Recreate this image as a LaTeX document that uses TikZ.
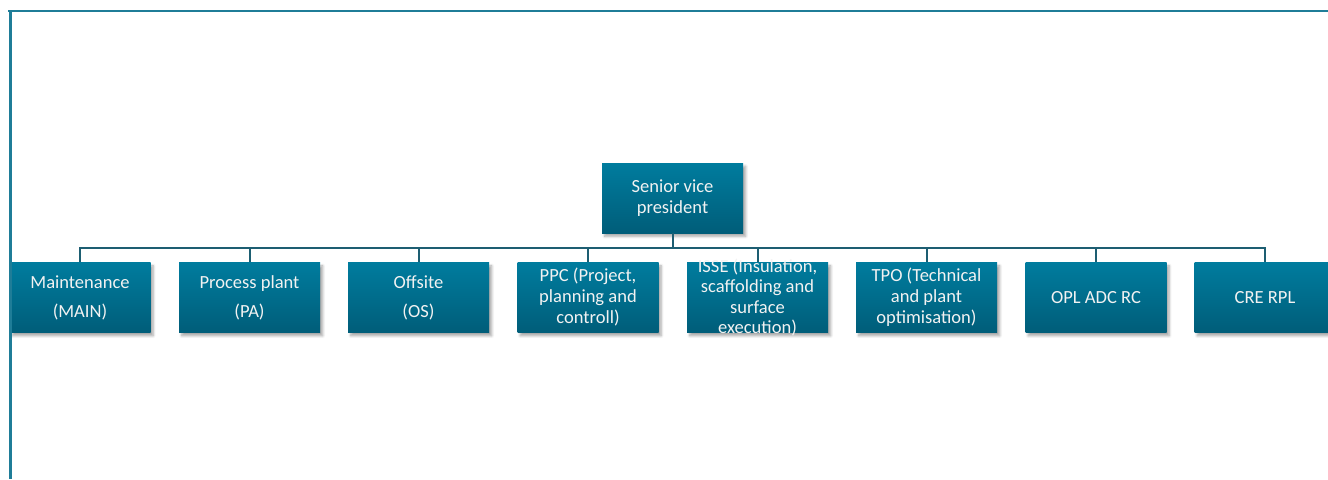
\documentclass[tikz,border=0pt]{standalone}
\usepackage{fontspec}
\setmainfont{Carlito}
\usetikzlibrary{shadows.blur}
\definecolor{frameteal}{HTML}{1F7D98}
\definecolor{linkteal}{HTML}{1D5E72}
\definecolor{boxtop}{HTML}{007C9E}
\definecolor{boxbottom}{HTML}{005D79}
\definecolor{boxtext}{HTML}{F2F2F2}
\tikzset{
  unit/.style={rectangle, minimum width=105.75pt, minimum height=52.5pt, inner sep=0pt,
    top color=boxtop, bottom color=boxbottom, draw=none,
    blur shadow={shadow xshift=2pt, shadow yshift=-2.5pt, shadow blur steps=6, shadow opacity=35}},
  unittext/.style={text=boxtext, align=center, inner sep=0pt,
    font=\fontsize{13.9}{15.75}\selectfont},
  link/.style={draw=linkteal, line width=1.5pt},
}

\begin{document}
\begin{tikzpicture}[x=0.75pt, y=-0.75pt]
		\useasboundingbox (0,0) rectangle (1328,479);
		% head
		\node [unit, label={[unittext]center:Senior vice\\president}] (svp) at (672.5,198) {};
		\coordinate (bus) at (672.5,248);
		% departments
		\node [unit, label={[unittext]center:Maintenance\\[6pt](MAIN)}] (main) at (80,297.5) {};
		\node [unit, label={[unittext]center:Process plant\\[6pt](PA)}] (pa) at (249.5,297.5) {};
		\node [unit, label={[unittext]center:Offsite\\[6pt](OS)}] (os) at (418.5,297.5) {};
		\node [unit, label={[unittext]center:PPC (Project,\\planning and\\controll)}] (ppc) at (588,297.5) {};
		\node [unit, label={[unittext]center:ISSE (Insulation,\\[-0.5pt]scaffolding and\\[-0.5pt]surface\\[-0.5pt]execution)}] (isse) at (757.5,297.5) {};
		\node [unit, label={[unittext]center:TPO (Technical\\and plant\\optimisation)}] (tpo) at (926.5,297.5) {};
		\node [unit, label={[unittext]center:OPL ADC RC}] (opl) at (1096,297.5) {};
		\node [unit, label={[unittext]center:CRE RPL}] (cre) at (1265,297.5) {};
		% connectors
		\draw [link] (svp.south) -- (bus);
		\foreach \dept in {main,pa,os,ppc,isse,tpo,opl,cre}
			\draw [link] (bus) -| (\dept.north);
		% frame
		\draw [frameteal, line width=1.5pt] (8,11) -- (1328,11);
		\draw [frameteal, line width=2.25pt] (10,10.25) -- (10,479);
\end{tikzpicture}
\end{document}
